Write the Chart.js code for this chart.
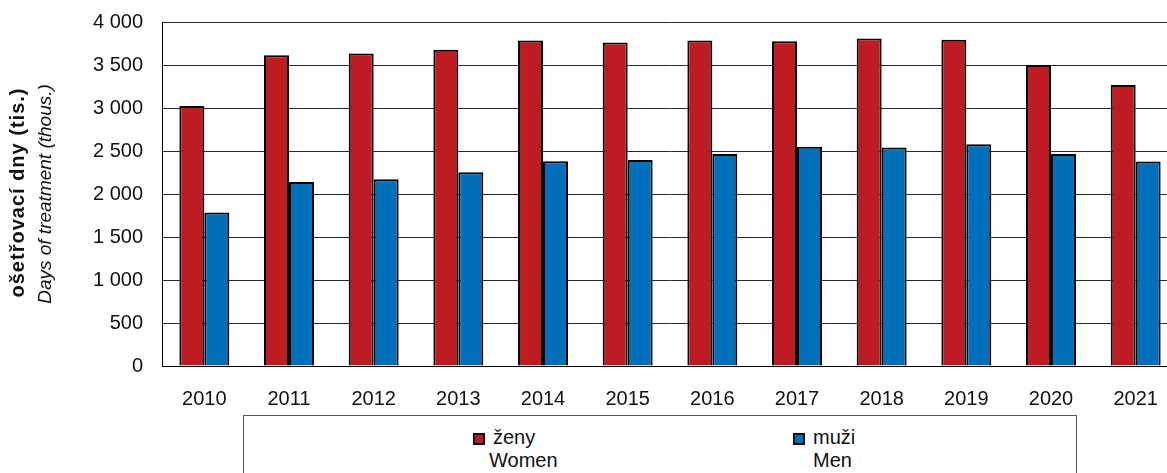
<!DOCTYPE html>
<html>
<head>
<meta charset="utf-8">
<script src="https://cdn.jsdelivr.net/npm/chart.js@4"></script>
<style>
  html, body { margin: 0; padding: 0; background: #fff; overflow: hidden; width: 1167px; height: 473px; }
  body { position: relative; font-family: "Liberation Sans", Arial, sans-serif; color: #111; }
  #wrap { position: absolute; left: 0; top: 0; width: 1178px; height: 405px; }
  .ytitle { position: absolute; left: 0; top: 0; font-size: 19px; white-space: nowrap;
            transform-origin: center center; }
  #t1 { font-size: 20px; letter-spacing: 1px; }
  #legend { position: absolute; left: 243px; top: 415px; width: 834px; height: 80px;
            border: 1px solid #555; box-sizing: border-box; }
  .item { position: absolute; font-size: 20px; line-height: 23px; }
  .sq { position: absolute; width: 8px; height: 8px; border: 2px solid #111; left: -20px; top: 7px; }
</style>
</head>
<body>
<div id="wrap"><canvas id="nemocChart"></canvas></div>
<div class="ytitle" id="t1"><b>ošetřovací dny (tis.)</b></div>
<div class="ytitle" id="t2"><i>Days of treatment (thous.)</i></div>
<div id="legend">
  <div class="item" style="left:249px; top:10px;"><span class="sq" style="background:#BE1B22"></span>ženy<br><span style="margin-left:-4px">Women</span></div>
  <div class="item" style="left:569px; top:10px;"><span class="sq" style="background:#0070BA"></span>muži<br>Men</div>
</div>
<script>
var years = ['2010', '2011', '2012', '2013', '2014', '2015', '2016', '2017', '2018', '2019', '2020', '2021'];
var zeny = [3022, 3614, 3633, 3676, 3785, 3762, 3785, 3777, 3808, 3793, 3501, 3268];
var muzi = [1785, 2139, 2171, 2252, 2381, 2396, 2466, 2548, 2540, 2579, 2466, 2377];

// rotated axis title, centred on the plot
function placeTitle(id, cx, cy) {
    var el = document.getElementById(id);
    var w = el.offsetWidth, h = el.offsetHeight;
    el.style.left = (cx - w / 2) + 'px';
    el.style.top = (cy - h / 2) + 'px';
    el.style.transform = 'rotate(-90deg)';
}
placeTitle('t1', 18, 192);
placeTitle('t2', 45, 194);

var ctx = document.getElementById('nemocChart').getContext('2d');
var nemocChart = new Chart(ctx, {
    type: 'bar',
    data: {
        labels: years,
        datasets: [{
            label: 'ženy',
            data: zeny,
            backgroundColor: '#BE1B22',
            borderColor: '#000',
            borderWidth: 2
        }, {
            label: 'muži',
            data: muzi,
            backgroundColor: '#0070BA',
            borderColor: '#000',
            borderWidth: 2
        }]
    },
    options: {
        responsive: true,
        maintainAspectRatio: false,
        animation: false,
        categoryPercentage: 0.59,
        barPercentage: 1,
        layout: {
            padding: { top: 22, right: 0, bottom: 0, left: 0 }
        },
        scales: {
            x: {
                grid: { display: false },
                border: { color: '#000', width: 1 },
                ticks: { color: '#111', padding: 13, font: { family: 'Liberation Sans', size: 20 } },
                afterFit: function (s) { s.height = 39; }
            },
            y: {
                min: 0,
                max: 4000,
                ticks: {
                    stepSize: 500,
                    padding: 19,
                    color: '#111',
                    font: { family: 'Liberation Sans', size: 20 },
                    callback: function (v) { return String(v).replace(/\B(?=(\d{3})+(?!\d))/g, ' '); }
                },
                grid: { color: '#2a2a2a', lineWidth: 1, drawTicks: false },
                border: { color: '#000', width: 1 },
                afterFit: function (s) { s.width = 162; s.paddingTop = 0; s.paddingBottom = 0; }
            }
        },
        plugins: {
            legend: { display: false },
            tooltip: { enabled: false }
        }
    }
});
</script>
</body>
</html>
